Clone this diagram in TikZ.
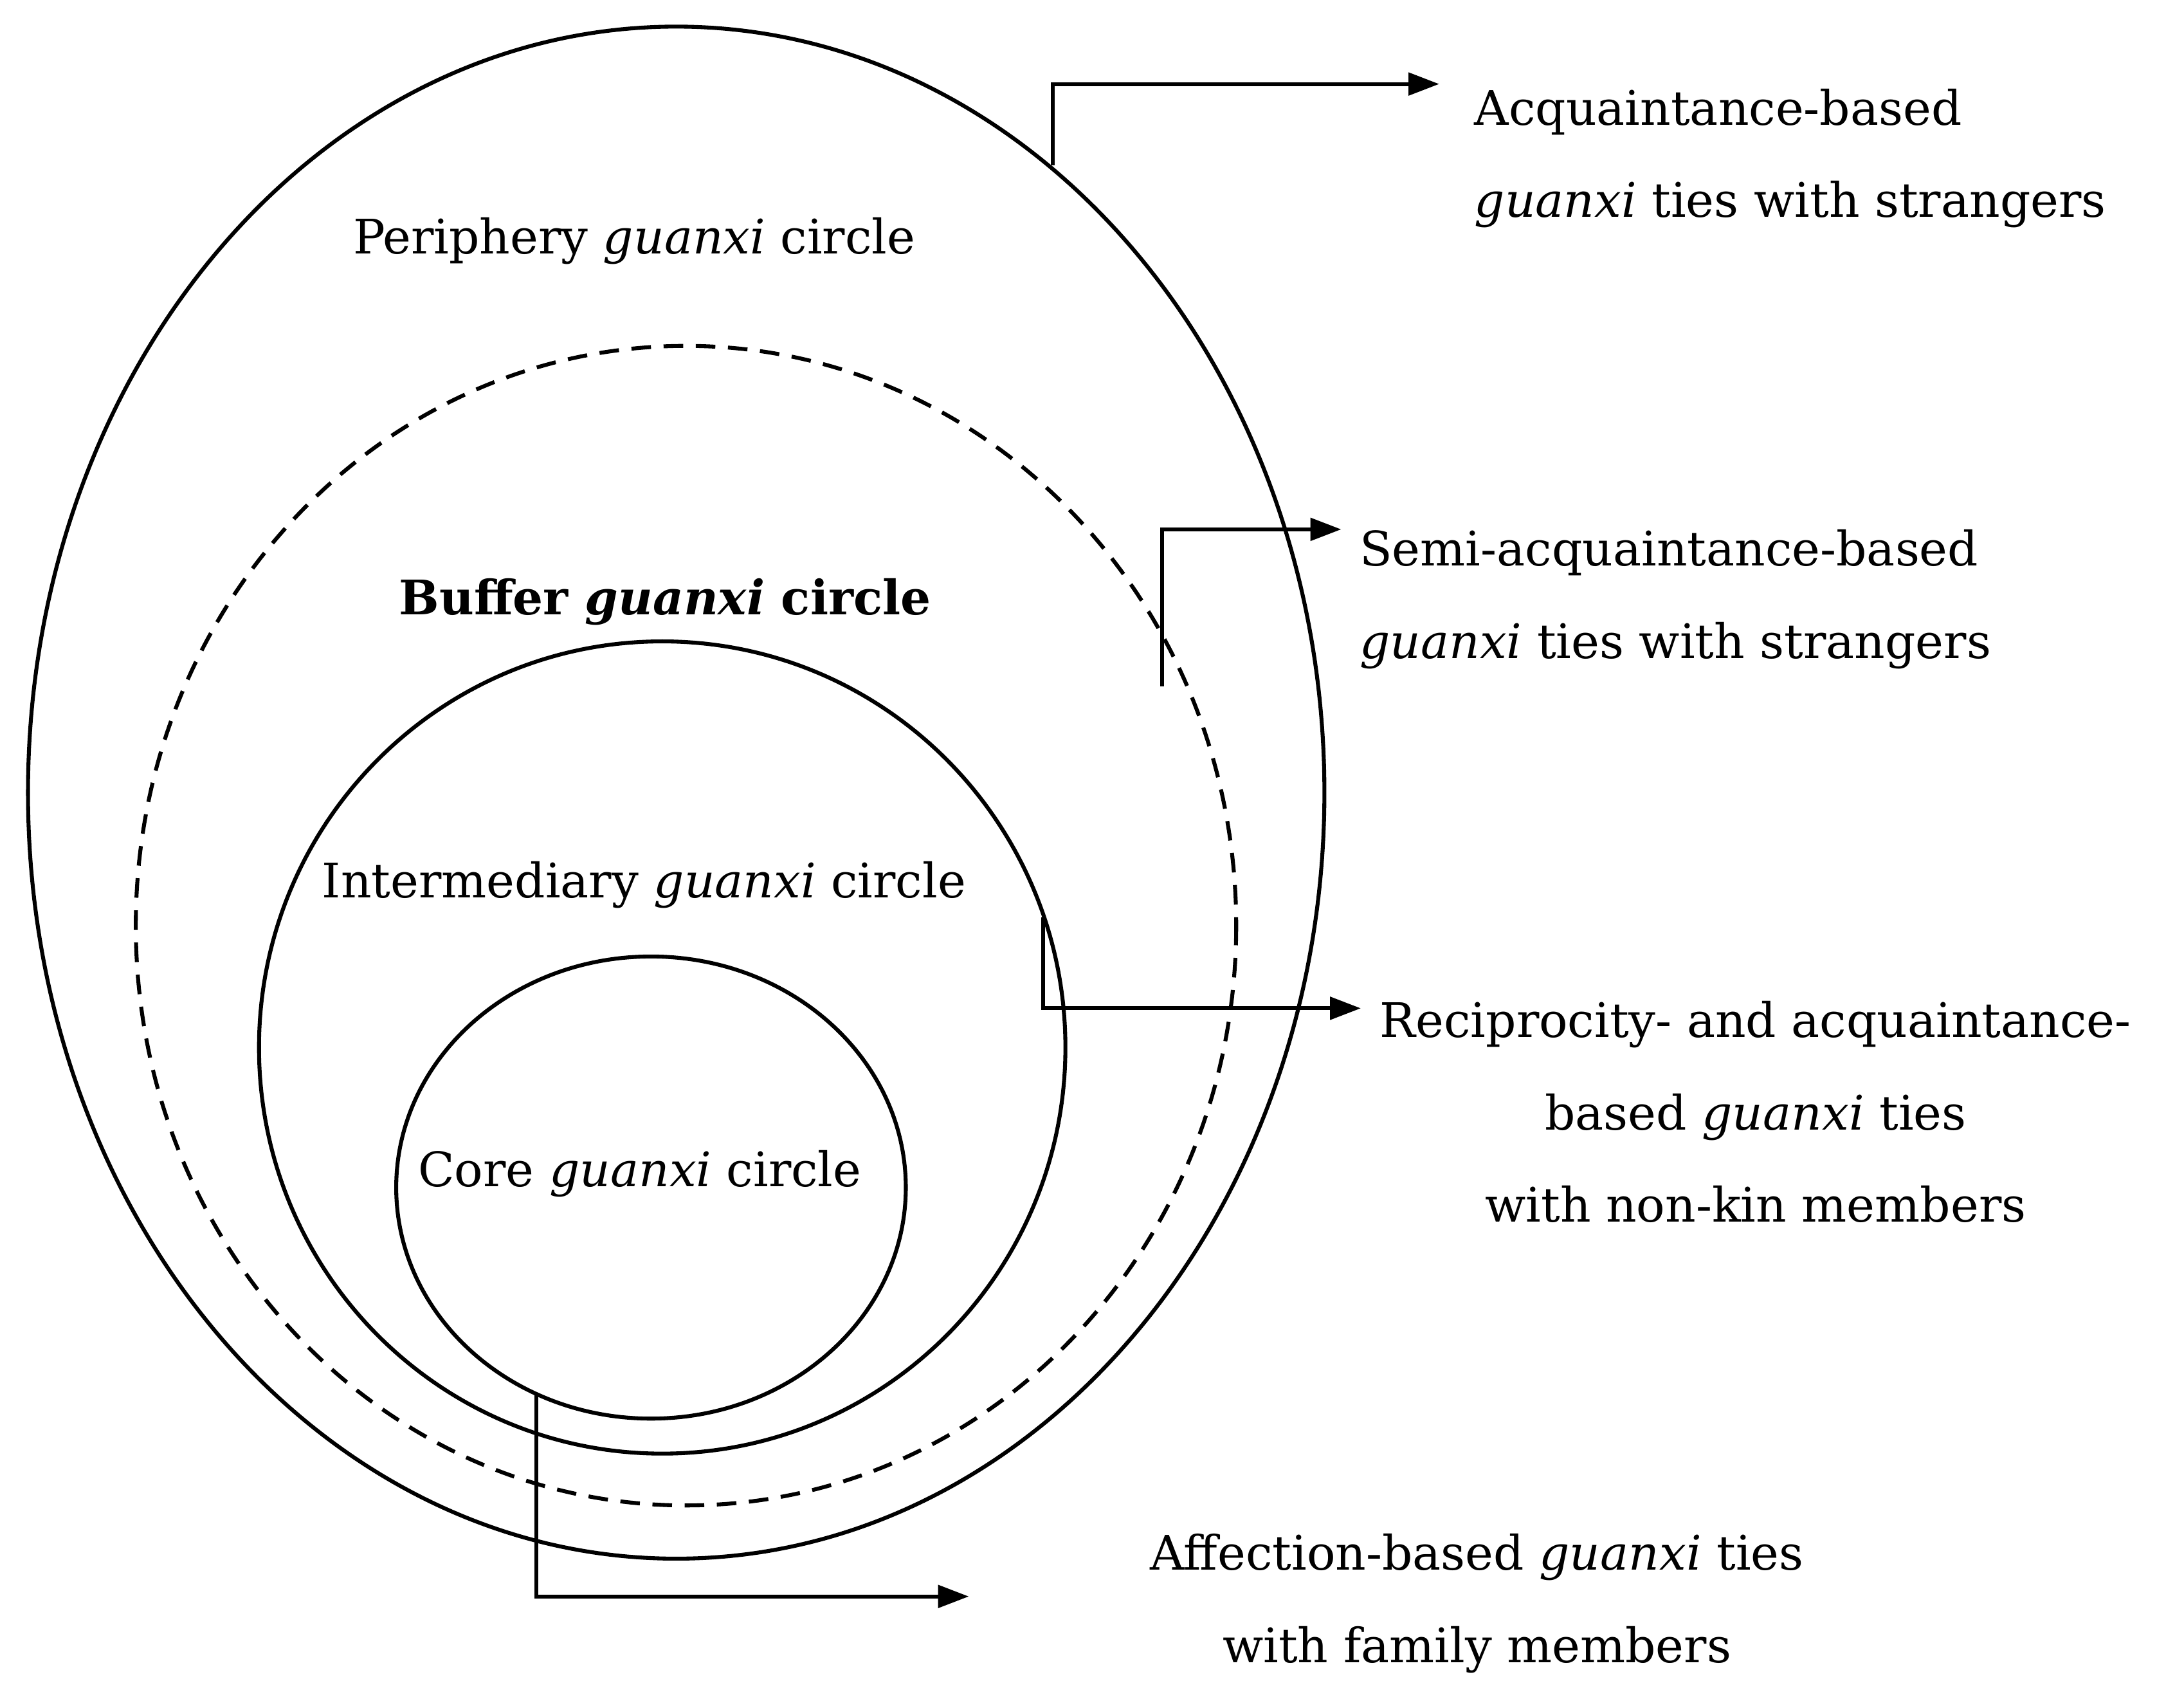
\documentclass[tikz,border=0pt]{standalone}
\usepackage{fontspec}
\setmainfont{DejaVu Serif}
\usetikzlibrary{arrows.meta}
\begin{document}
\begin{tikzpicture}[x=1pt,y=-1pt,
  ring/.style={line width=2.8pt},
  lead/.style={line width=2.8pt,-{Triangle[length=22pt,width=16pt]}},
  lab/.style={font=\fontsize{34}{66}\selectfont,align=center,inner sep=0pt},
  side/.style={font=\fontsize{34}{66}\selectfont,align=left,anchor=west,inner sep=0pt}]
\useasboundingbox (0,0) rectangle (1560,1218);
\draw[ring] (483,566) ellipse [x radius=463,y radius=547];
\draw[ring,dash pattern=on 14pt off 9pt] (490,661) ellipse [x radius=393,y radius=414];
\draw[ring] (473,748) ellipse [x radius=288,y radius=290];
\draw[ring] (465,848) ellipse [x radius=182,y radius=165];
\node[lab] (p) at (453,172) {Periphery \textit{guanxi} circle};
\node[lab] (b) at (475,430) {\textbf{Buffer \textit{guanxi} circle}};
\node[lab] (i) at (460,632) {Intermediary \textit{guanxi} circle};
\node[lab] (c) at (457,838) {Core \textit{guanxi} circle};
\coordinate (a1) at (752,118); \coordinate (e1) at (1028,60);
\coordinate (a2) at (830,490); \coordinate (e2) at (958,378);
\coordinate (a3) at (745,655); \coordinate (e3) at (972,720);
\coordinate (a4) at (383,995); \coordinate (e4) at (692,1140);
\draw[lead] (a1) |- (e1);
\draw[lead] (a2) |- (e2);
\draw[lead] (a3) |- (e3);
\draw[lead] (a4) |- (e4);
\node[side] (t1) at (1053,113) {Acquaintance-based\\\textit{guanxi} ties with strangers};
\node[side] (t2) at (971,428) {Semi-acquaintance-based\\\textit{guanxi} ties with strangers};
\node[lab] (t3) at (1254,794) {Reciprocity- and acquaintance-\\based \textit{guanxi} ties\\with non-kin members};
\node[lab] (t4) at (1055,1145) {Affection-based \textit{guanxi} ties\\with family members};
\end{tikzpicture}
\end{document}
